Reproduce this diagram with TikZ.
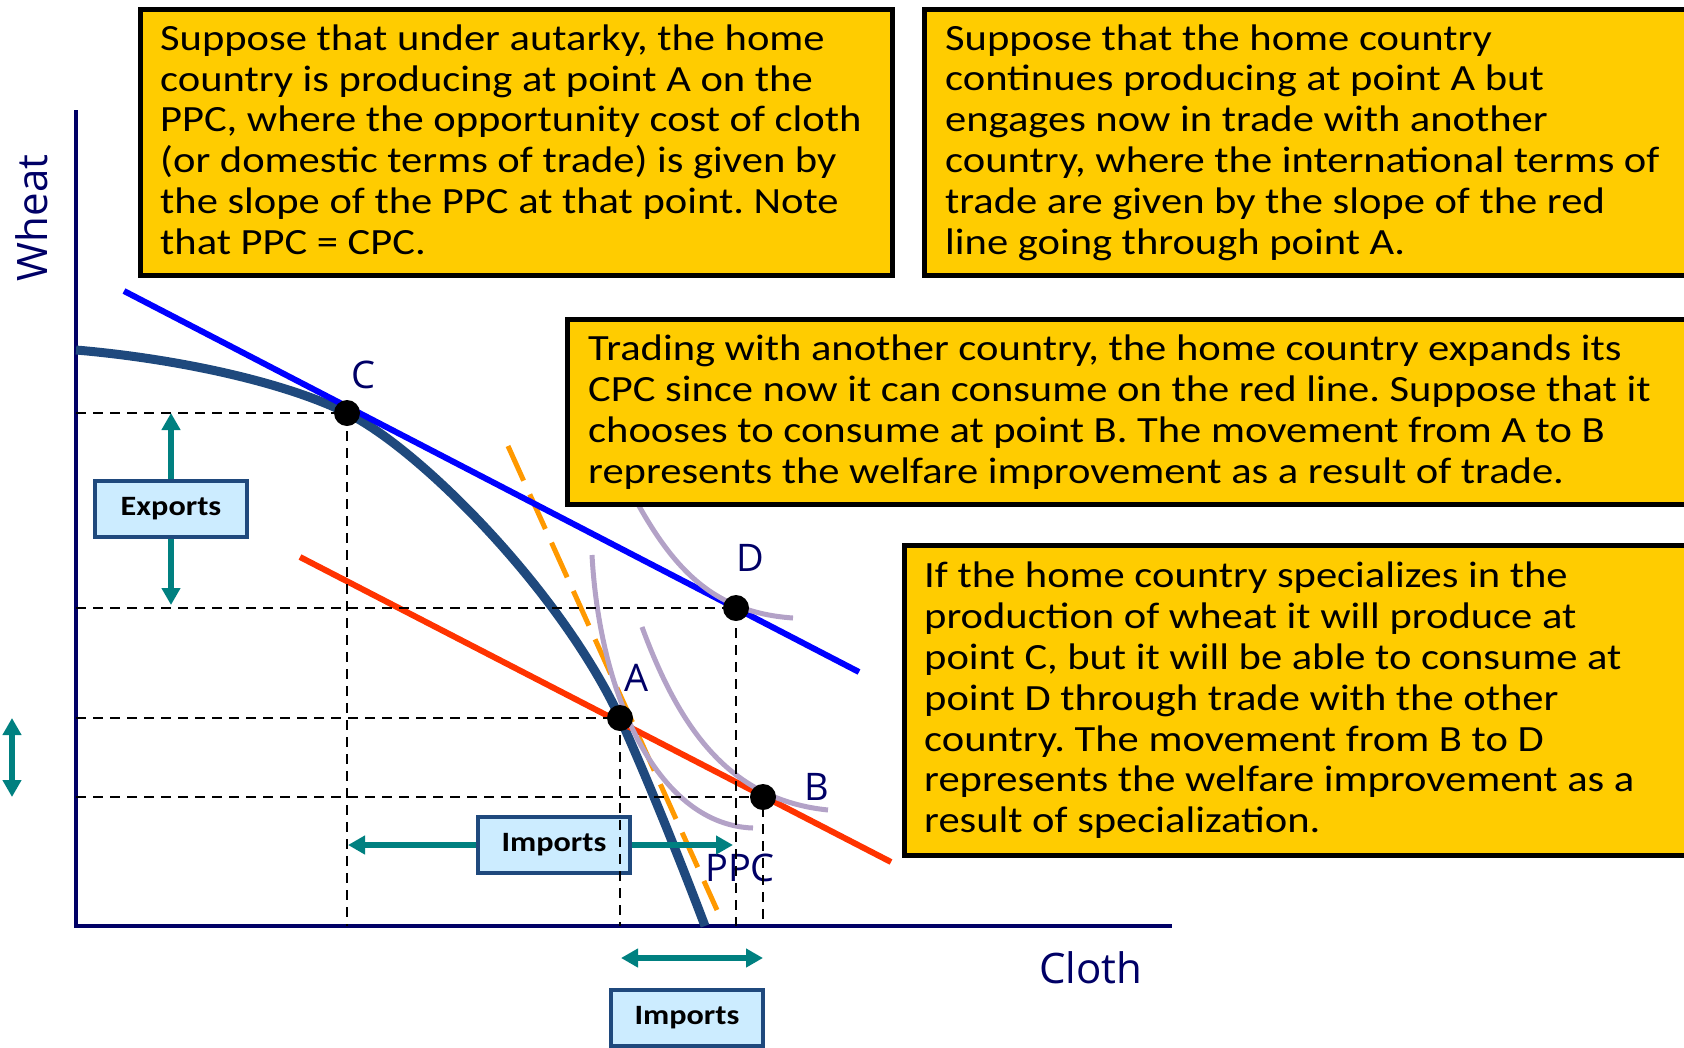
\documentclass[tikz,border=0pt]{standalone}
\usepackage{fontspec}
\setmainfont{Carlito}[FakeStretch=1.15]
\newfontfamily\labelfont{Open Sans}
\usepackage{tikz}
\usetikzlibrary{arrows.meta, positioning}
\definecolor{gold}{RGB}{255,204,0}
\definecolor{navy}{RGB}{0,0,102}
\definecolor{darkblue}{RGB}{31,73,125}
\definecolor{paleblue}{RGB}{204,236,255}
\definecolor{lavender}{RGB}{179,162,199}
\definecolor{tradered}{RGB}{255,51,0}
\definecolor{tangent}{RGB}{255,153,0}
\definecolor{arrteal}{RGB}{0,128,128}
\frenchspacing

\begin{document}
\begin{tikzpicture}[x=1pt, y=-1pt,
  note/.style={rectangle, draw=black, line width=5pt, fill=gold, anchor=north west},
  txt/.style={inner sep=0pt, align=left, font=\fontsize{37pt}{40.8pt}\selectfont},
  tag/.style={rectangle, draw=darkblue, line width=3.5pt, fill=paleblue, minimum width=152pt, minimum height=56pt, font=\bfseries\fontsize{28pt}{34pt}\selectfont},
  lbl/.style={inner sep=0pt, text=navy, font=\labelfont\fontsize{38pt}{44pt}\selectfont},
  dot/.style={circle, fill=black, inner sep=0pt, minimum size=26pt},
  guide/.style={dash pattern=on 10pt off 7pt, line width=2.5pt},
  arr/.style={-{Triangle[length=17pt, width=18pt]}, line width=6pt, arrteal},
  darr/.style={{Triangle[length=17pt, width=18pt]}-{Triangle[length=17pt, width=18pt]}, line width=6pt, arrteal},
  ic/.style={line width=5pt, lavender}
]
  \useasboundingbox (0,0) rectangle (1684,1047);

  % axes
  \coordinate (O) at (76,926);
  \draw[navy, line width=4pt] (76,110) -- (O) -- (1172,926);
  \node[lbl, rotate=90, font=\labelfont\fontsize{42pt}{46pt}\selectfont] (wheat) at (32,218) {Wheat};
  \node[lbl, font=\labelfont\fontsize{42pt}{46pt}\selectfont] (cloth) at (1091,968) {Cloth};

  % tangent, PPC and trade lines
  \draw[tangent, line width=5pt, dash pattern=on 38pt off 15pt] (508,446) -- (717,910);
  \draw[darkblue, line width=9pt] (76,350) .. controls (170,358) and (280,380) .. (347,413)
    .. controls (420,449) and (560,590) .. (620,718)
    .. controls (650,785) and (680,860) .. (705,926);
  \draw[blue, line width=6pt] (124,291) -- (859,672);
  \draw[tradered, line width=6pt] (300,557) -- (891,862);

  % indifference curves
  \draw[ic] (592,555) .. controls (600,700) and (660,825) .. (753,828);
  \draw[ic] (642,627) .. controls (680,730) and (730,800) .. (828,810);
  \draw[ic] (620,470) .. controls (665,560) and (705,612) .. (793,618);

  % points
  \node[dot] (C) at (347,413) {};
  \node[dot] (D) at (736,608) {};
  \node[dot] (A) at (620,718) {};
  \node[dot] (B) at (763,797) {};
  \node[lbl] (labC) at (363,375) {C};
  \node[lbl] (labD) at (750,558) {D};
  \node[lbl] (labA) at (637,678) {A};
  \node[lbl] (labB) at (817,787) {B};
  \node[lbl] (labPPC) at (740,868) {PPC};

  % exports and imports
  \node[tag] (exports) at (171,509) {Exports};
  \coordinate (expTop) at (171,413);
  \coordinate (expBot) at (171,605);
  \draw[arr] (exports) -- (expTop);
  \draw[arr] (exports) -- (expBot);

  \node[tag] (imports) at (554,845) {Imports};
  \coordinate (impL) at (348,845);
  \coordinate (impR) at (733,845);
  \draw[arr] (imports) -- (impL);
  \draw[arr] (imports) -- (impR);

  \coordinate (clA) at (621,958);
  \coordinate (clB) at (763,958);
  \draw[darr] (clA) -- (clB);
  \node[tag] (imports2) at (687,1018) {Imports};

  \coordinate (whA) at (12,718);
  \coordinate (whB) at (12,797);
  \draw[darr] (whA) -- (whB);

  % guides
  \foreach \p in {C,D,A,B}
    \draw[guide] (\p.center -| O) -- (\p.center) -- (\p.center |- O);

  % notes
  \node[note, minimum width=752pt, minimum height=266pt] (autarky) at (138,7) {};
  \node[txt, right=22pt of autarky.west, yshift=3pt] (autarkyTxt) {Suppose that under autarky, the home\\
country is producing at point A on the\\
PPC, where the opportunity cost of cloth\\
(or domestic terms of trade) is given by\\
the slope of the PPC at that point. Note\\
that PPC = CPC.};

  \node[note, minimum width=770pt, minimum height=266pt] (trade) at (922,7) {};
  \node[txt, right=23pt of trade.west] (tradeTxt) {Suppose that the home country\\
continues producing at point A but\\
engages now in trade with another\\
country, where the international terms of\\
trade are given by the slope of the red\\
line going through point A.};

  \node[note, minimum width=1128pt, minimum height=185pt] (expand) at (565,317) {};
  \node[txt, right=23pt of expand.west] (expandTxt) {Trading with another country, the home country expands its\\
CPC since now it can consume on the red line. Suppose that it\\
chooses to consume at point B. The movement from A to B\\
represents the welfare improvement as a result of trade.};

  \node[note, minimum width=793pt, minimum height=310pt] (special) at (902,543) {};
  \node[txt, right=22pt of special.west] (specialTxt) {If the home country specializes in the\\
production of wheat it will produce at\\
point C, but it will be able to consume at\\
point D through trade with the other\\
country. The movement from B to D\\
represents the welfare improvement as a\\
result of specialization.};
\end{tikzpicture}
\end{document}
